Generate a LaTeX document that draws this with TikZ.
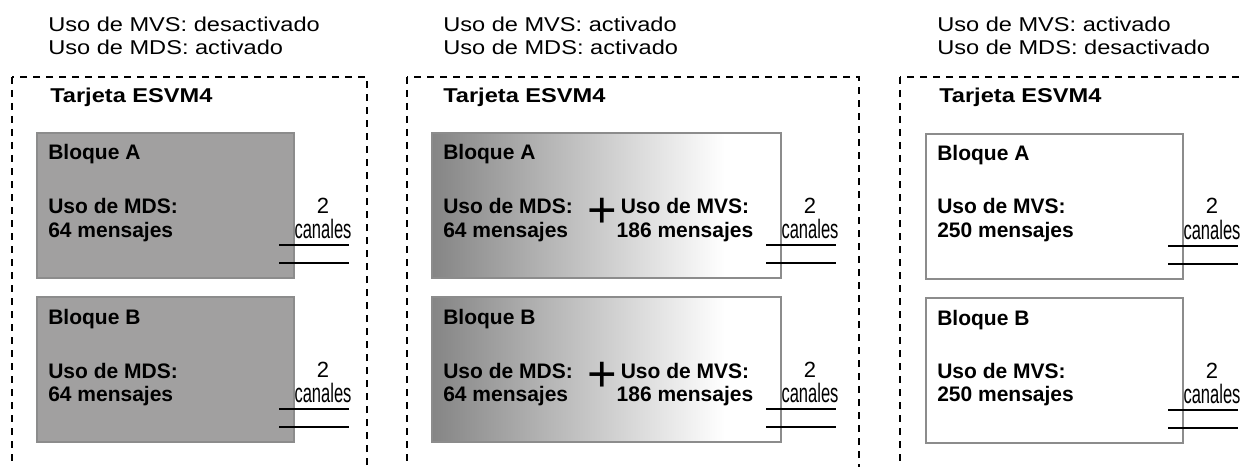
\documentclass[tikz,border=0pt]{standalone}
\usepackage{fontspec}
\setmainfont{Liberation Sans}
\newfontfamily\widefont[FakeStretch=1.18]{Liberation Sans}
\newfontfamily\narrowfont[FakeStretch=0.62]{Liberation Sans}
\usetikzlibrary{calc}

\definecolor{blockgray}{RGB}{161,160,160}
\definecolor{fadegray}{RGB}{133,133,133}
\definecolor{edgegray}{RGB}{140,140,140}
\pgfdeclarehorizontalshading{blockfade}{100bp}{color(0bp)=(fadegray); color(25bp)=(fadegray); color(67bp)=(white); color(100bp)=(white)}

\begin{document}
\begin{tikzpicture}[x=0.75pt,y=-0.75pt,
    hdr/.style={anchor=base west,inner sep=0pt,font=\widefont\fontsize{15}{18}\selectfont},
    card/.style={anchor=base west,inner sep=0pt,font=\widefont\bfseries\fontsize{15}{18}\selectfont},
    frame/.style={line width=0.8pt,dash pattern=on 5.25pt off 4.5pt},
    block/.style={draw=edgegray,line width=1.2pt,anchor=north west,inner sep=0pt,outer sep=0pt,minimum height=\bh},
    txt/.style={anchor=base west,inner sep=0pt,font=\bfseries\fontsize{15.75}{19}\selectfont},
    txtmid/.style={anchor=base,inner sep=0pt,font=\bfseries\fontsize{15.75}{19}\selectfont},
    plus/.style={inner sep=0pt,font=\fontsize{38}{40}\selectfont},
    num/.style={anchor=base,inner sep=0pt,font=\fontsize{16.5}{20}\selectfont},
    chan/.style={anchor=base,inner sep=0pt,font=\narrowfont\fontsize{20}{22}\selectfont},
    wire/.style={line width=0.8pt}]
    % Define dimensions (1 unit = 1 px)
    \def\bw{192.75pt}
    \def\bwide{261.75pt}
    \def\bh{108.75pt}
    \useasboundingbox (0,0) rectangle (1240,467);
    \clip (0,0) rectangle (1240,467);
    % Panel with MDS only
    \begin{scope}[shift={(12,0)}]
        \node[hdr] (p1h1) at (36,32) {Uso de MVS: desactivado};
        \node[hdr] (p1h2) at (36,55) {Uso de MDS: activado};
        \draw[frame] (0,77) rectangle (355,490);
        \node[card] (p1card) at (38,103) {Tarjeta ESVM4};
        \node[block,fill=blockgray,minimum width=\bw] (p1a) at (25,133) {};
        \node[block,fill=blockgray,minimum width=\bw] (p1b) at (25,297) {};
        \foreach \b/\n in {p1a/A,p1b/B}{
            \node[txt] (\b-t) at ($(\b.north west)+(11,27)$) {Bloque \n};
            \node[txt] (\b-u) at ($(\b.north west)+(11,81)$) {Uso de MDS:};
            \node[txt] (\b-m) at ($(\b.north west)+(11,104)$) {64 mensajes};
        }
    \end{scope}
    % Panel with MDS and MVS
    \begin{scope}[shift={(407,0)}]
        \node[hdr] (p2h1) at (36,32) {Uso de MVS: activado};
        \node[hdr] (p2h2) at (36,55) {Uso de MDS: activado};
        \draw[frame] (0,77) rectangle (452,490);
        \node[card] (p2card) at (36,103) {Tarjeta ESVM4};
        \node[block,shading=blockfade,minimum width=\bwide] (p2a) at (25,133) {};
        \node[block,shading=blockfade,minimum width=\bwide] (p2b) at (25,297) {};
        \foreach \b/\n in {p2a/A,p2b/B}{
            \node[txt] (\b-t) at ($(\b.north west)+(11,27)$) {Bloque \n};
            \node[txt] (\b-u) at ($(\b.north west)+(11,81)$) {Uso de MDS:};
            \node[txt] (\b-m) at ($(\b.north west)+(11,104)$) {64 mensajes};
            \node[plus] (\b-p) at ($(\b.north west)+(170,80)$) {+};
            \node[txtmid] (\b-v) at ($(\b.north west)+(253,81)$) {Uso de MVS:};
            \node[txtmid] (\b-w) at ($(\b.north west)+(253,104)$) {186 mensajes};
        }
    \end{scope}
    % Panel with MVS only
    \begin{scope}[shift={(900,0)}]
        \node[hdr] (p3h1) at (37,32) {Uso de MVS: activado};
        \node[hdr] (p3h2) at (37,55) {Uso de MDS: desactivado};
        \draw[frame] (0,77) rectangle (400,490);
        \node[card] (p3card) at (39,103) {Tarjeta ESVM4};
        \node[block,fill=white,minimum width=\bw] (p3a) at (26,134) {};
        \node[block,fill=white,minimum width=\bw] (p3b) at (26,298) {};
        \foreach \b/\n in {p3a/A,p3b/B}{
            \node[txt] (\b-t) at ($(\b.north west)+(11,27)$) {Bloque \n};
            \node[txt] (\b-u) at ($(\b.north west)+(11,80)$) {Uso de MVS:};
            \node[txt] (\b-m) at ($(\b.north west)+(11,103)$) {250 mensajes};
        }
    \end{scope}
    % Two channels on every block
    \foreach \b in {p1a,p1b,p2a,p2b,p3a,p3b}{
        \node[num] (\b-n) at ($(\b.north east)+(29,80)$) {2};
        \node[chan] (\b-c) at ($(\b.north east)+(29,105)$) {canales};
        \coordinate (\b-l1) at ($(\b.north east)+(-15,112)$);
        \coordinate (\b-r1) at ($(\b.north east)+(55,112)$);
        \coordinate (\b-l2) at ($(\b.north east)+(-15,130)$);
        \coordinate (\b-r2) at ($(\b.north east)+(55,130)$);
        \draw[wire] (\b-l1) -- (\b-r1);
        \draw[wire] (\b-l2) -- (\b-r2);
    }
\end{tikzpicture}
\end{document}
